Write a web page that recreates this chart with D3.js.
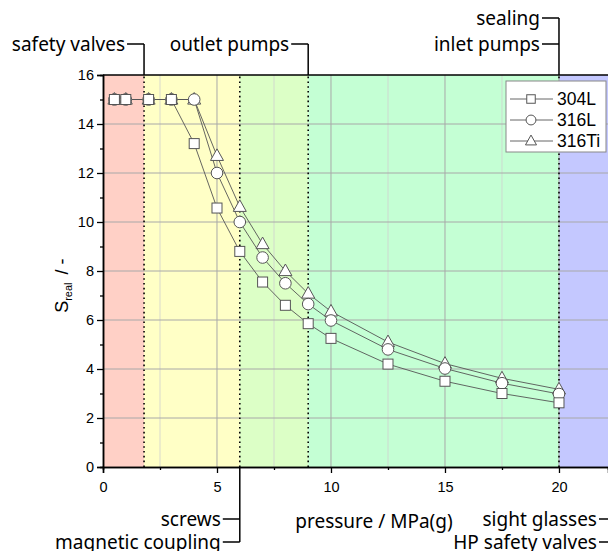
<!DOCTYPE html>
<html>
<head>
<meta charset="utf-8">
<script src="https://cdn.jsdelivr.net/npm/d3@7"></script>
<style>
  body { margin: 0; background: #fff; }
  .tick text { font-family: "Liberation Sans", Arial, sans-serif; font-size: 14.5px; fill: #000; }
  .note { font-family: "Noto Sans", sans-serif; font-size: 19px; fill: #000; }
</style>
</head>
<body>
<div id="chart"></div>
<script>
// pressure values (MPa(g))
var pressure = [0.5, 1, 2, 3, 4, 5, 6, 7, 8, 9, 10, 12.5, 15, 17.5, 20];

// S_real per material
var s304L  = [15, 15, 15, 15, 13.2, 10.57, 8.8, 7.55, 6.6, 5.85, 5.25, 4.2, 3.5, 3.0, 2.62];
var s316L  = [15, 15, 15, 15, 15, 12.0, 10.0, 8.55, 7.5, 6.65, 5.98, 4.8, 4.02, 3.42, 2.98];
var s316Ti = [15, 15, 15, 15, 15, 12.7, 10.62, 9.1, 8.0, 7.08, 6.35, 5.1, 4.22, 3.62, 3.17];

var seriesNames = ["304L", "316L", "316Ti"];
var seriesSymbols = ["square", "circle", "triangle"];

// component pressure zones
var zoneEdges = [0, 1.8, 6, 9, 20, 22.15];
var zoneColors = ["#ffd0c6", "#ffffc6", "#dcffc6", "#c4ffd4", "#c4c8ff"];
var zoneBorders = [1.8, 6, 9, 20];

var topNotes = [
  {text: "safety valves", p: 1.8, row: 1},
  {text: "outlet pumps", p: 9, row: 1},
  {text: "sealing", p: 20, row: 0},
  {text: "inlet pumps", p: 20, row: 1}
];
var bottomNotes = [
  {text: "screws", p: 6, row: 0},
  {text: "magnetic coupling", p: 6, row: 1},
  {text: "sight glasses", p: 22.5, row: 0},
  {text: "HP safety valves", p: 22.5, row: 1}
];

var xTicks = [0, 5, 10, 15, 20];
var xMinor = [2.5, 7.5, 12.5, 17.5];
var yTicks = [0, 2, 4, 6, 8, 10, 12, 14, 16];
var yMinor = [1, 3, 5, 7, 9, 11, 13, 15];

var svgWidth = 608, svgHeight = 551;
var margin = {top: 75, left: 103, bottom: 84};

var svg = d3.select("#chart").append("svg")
  .attr("width", svgWidth)
  .attr("height", svgHeight);

var x = d3.scaleLinear().domain([0, 22.15]).range([margin.left, svgWidth]);
var y = d3.scaleLinear().domain([0, 16]).range([svgHeight - margin.bottom, margin.top]);

// background zones
svg.selectAll(".zone")
  .data(zoneColors)
  .enter()
  .append("rect")
  .attr("x", (d, i) => x(zoneEdges[i]))
  .attr("y", y(16))
  .attr("width", (d, i) => x(zoneEdges[i + 1]) - x(zoneEdges[i]))
  .attr("height", y(0) - y(16))
  .attr("fill", d => d);

// grid
svg.selectAll(".gxm")
  .data(xMinor)
  .enter()
  .append("line")
  .attr("x1", d => x(d)).attr("x2", d => x(d))
  .attr("y1", y(0)).attr("y2", y(16))
  .attr("stroke", "#cfcfcf").attr("stroke-width", 0.8);

svg.selectAll(".gx")
  .data(xTicks.slice(1))
  .enter()
  .append("line")
  .attr("x1", d => x(d)).attr("x2", d => x(d))
  .attr("y1", y(0)).attr("y2", y(16))
  .attr("stroke", "#a8a8a8").attr("stroke-width", 1);

svg.selectAll(".gy")
  .data(yTicks.slice(1, -1))
  .enter()
  .append("line")
  .attr("x1", x(0)).attr("x2", svgWidth)
  .attr("y1", d => y(d)).attr("y2", d => y(d))
  .attr("stroke", "#a8a8a8").attr("stroke-width", 1);

// dotted zone borders
svg.selectAll(".border")
  .data(zoneBorders)
  .enter()
  .append("line")
  .attr("x1", d => x(d)).attr("x2", d => x(d))
  .attr("y1", y(0)).attr("y2", y(16))
  .attr("stroke", "#000")
  .attr("stroke-width", 1.6)
  .attr("stroke-dasharray", "1.6,3.2");

// series lines + markers
var allSeries = [s304L, s316L, s316Ti];
var line = d3.line()
  .x((d, i) => x(pressure[i]))
  .y(d => y(d));

function drawSymbol(g, type, cx, cy, s) {
  s = s || 1;
  if (type === "square") {
    g.append("rect")
      .attr("x", cx - 5 * s).attr("y", cy - 5 * s)
      .attr("width", 10 * s).attr("height", 10 * s)
      .attr("fill", "#fff").attr("stroke", "#555").attr("stroke-width", 1);
  } else if (type === "circle") {
    g.append("circle")
      .attr("cx", cx).attr("cy", cy).attr("r", 5.8 * s)
      .attr("fill", "#fff").attr("stroke", "#555").attr("stroke-width", 1);
  } else {
    g.append("path")
      .attr("d", `M${cx},${cy - 7 * s} L${cx + 6.5 * s},${cy + 4.6 * s} L${cx - 6.5 * s},${cy + 4.6 * s} Z`)
      .attr("fill", "#fff").attr("stroke", "#555").attr("stroke-width", 1);
  }
}

allSeries.forEach(function(vals) {
  svg.append("path")
    .datum(vals)
    .attr("d", line)
    .attr("fill", "none")
    .attr("stroke", "#555")
    .attr("stroke-width", 0.9);
});

// draw markers in reverse so squares end on top
[2, 1, 0].forEach(function(k) {
  var g = svg.append("g");
  allSeries[k].forEach(function(v, i) {
    drawSymbol(g, seriesSymbols[k], x(pressure[i]), y(v));
  });
});

// axes
var leftAxis = d3.axisLeft(y).tickValues(yTicks).tickSize(6).tickPadding(3);
var leftMinor = d3.axisLeft(y).tickValues(yMinor).tickSize(3).tickFormat("");
var bottomAxis = d3.axisBottom(x).tickValues(xTicks).tickSize(6).tickPadding(9);
var bottomMinor = d3.axisBottom(x).tickValues(xMinor).tickSize(3).tickFormat("");

[leftAxis, leftMinor].forEach(function(a) {
  svg.append("g")
    .attr("transform", `translate(${x(0)},0)`)
    .call(a)
    .call(g => g.select(".domain").attr("stroke-width", 1.5));
});
[bottomAxis, bottomMinor].forEach(function(a) {
  svg.append("g")
    .attr("transform", `translate(0,${y(0)})`)
    .call(a)
    .call(g => g.select(".domain").attr("stroke-width", 1.5));
});
svg.selectAll(".tick line").attr("stroke-width", 1.3);

// top frame line
svg.append("line")
  .attr("x1", x(0)).attr("x2", svgWidth)
  .attr("y1", y(16)).attr("y2", y(16))
  .attr("stroke", "#000").attr("stroke-width", 1.5);

// axis titles
svg.append("text")
  .attr("class", "note")
  .attr("x", 374).attr("y", 521)
  .attr("dy", "0.35em")
  .attr("text-anchor", "middle")
  .text("pressure / MPa(g)");

var yl = svg.append("text")
  .attr("transform", `translate(68,${y(7.4)}) rotate(-90)`)
  .attr("text-anchor", "middle")
  .style("font-family", "Liberation Sans, Arial, sans-serif")
  .style("font-size", "18px");
yl.append("tspan").text("S");
yl.append("tspan").attr("dy", 4).style("font-size", "11px").text("real");
yl.append("tspan").attr("dy", -4).attr("dx", 8).text("/ -");

// bracket annotations
var topRowY = [18, 44];
var bottomRowY = [519, 542];

function annotate(notes, rowY, axisY) {
  notes.forEach(function(n) {
    var px = x(n.p);
    var ty = rowY[n.row];
    svg.append("text")
      .attr("class", "note")
      .attr("x", px - 19)
      .attr("y", ty)
      .attr("dy", "0.35em")
      .attr("text-anchor", "end")
      .text(n.text);
    svg.append("line")
      .attr("x1", px - 17).attr("x2", px)
      .attr("y1", ty).attr("y2", ty)
      .attr("stroke", "#000").attr("stroke-width", 1.5);
  });
  var ps = Array.from(new Set(notes.map(n => n.p)));
  ps.forEach(function(p) {
    var rows = notes.filter(n => n.p === p).map(n => rowY[n.row]);
    var far = axisY < rows[0] ? d3.max(rows) : d3.min(rows);
    svg.append("line")
      .attr("x1", x(p)).attr("x2", x(p))
      .attr("y1", far).attr("y2", axisY)
      .attr("stroke", "#000").attr("stroke-width", 1.5);
  });
}
annotate(topNotes, topRowY, y(16));
annotate(bottomNotes, bottomRowY, y(0));

// legend
var legend = svg.append("g").attr("transform", "translate(506,81)");
legend.append("rect")
  .attr("width", 100).attr("height", 71)
  .attr("fill", "#fff").attr("stroke", "#888").attr("stroke-width", 1);
seriesNames.forEach(function(name, i) {
  var ly = 18 + i * 21;
  legend.append("line")
    .attr("x1", 4).attr("x2", 47)
    .attr("y1", ly).attr("y2", ly)
    .attr("stroke", "#555").attr("stroke-width", 0.9);
  drawSymbol(legend, seriesSymbols[i], 25, ly, 0.85);
  legend.append("text")
    .attr("x", 51).attr("y", ly)
    .attr("dy", "0.36em")
    .style("font-family", "Liberation Sans, Arial, sans-serif")
    .style("font-size", "17.5px")
    .text(name);
});
</script>
</body>
</html>
